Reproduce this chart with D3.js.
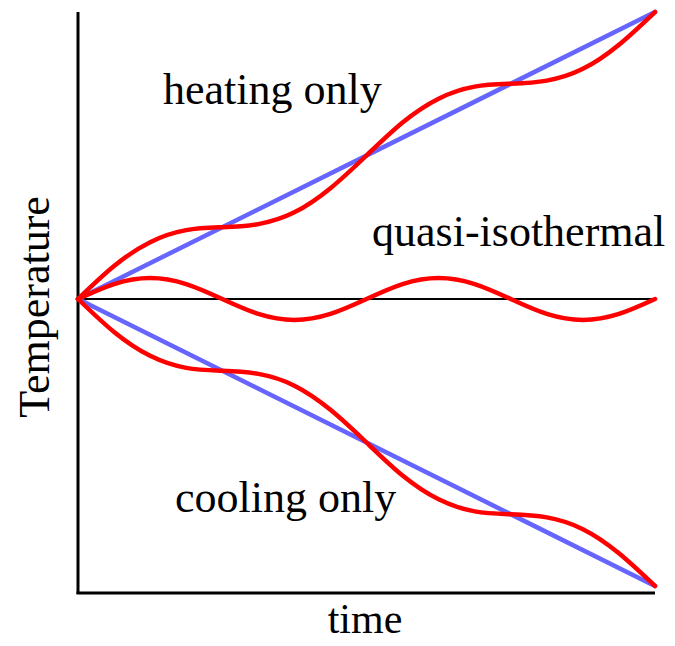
<!DOCTYPE html>
<html>
<head>
<meta charset="utf-8">
<script src="https://cdn.jsdelivr.net/npm/d3@7"></script>
<style>
html, body { margin: 0; padding: 0; background: #fff; }
svg text { font-family: "Liberation Serif", "Times New Roman", serif; fill: #000; }
</style>
</head>
<body>
<svg id="chart" width="675" height="646"></svg>
<script>
// time samples (arbitrary units)
const times = [0,1,2,3,4,5,6,7,8,9,10,11,12,13,14,15,16];
// linear (blue) references
const heatingLinear = [0, 10];
const coolingLinear = [0, -10];
const linearTimes = [0, 16];
// red curves
const heatingOnly = [0, 1.15, 1.98, 2.40, 2.50, 2.61, 3.02, 3.86, 5.00, 6.15, 6.98, 7.40, 7.50, 7.61, 8.02, 8.86, 10.0];
const coolingOnly = [0, -1.15, -1.98, -2.40, -2.50, -2.61, -3.02, -3.86, -5.00, -6.15, -6.98, -7.40, -7.50, -7.61, -8.02, -8.86, -10.0];
const quasiIso = [0, 0.52, 0.73, 0.52, 0, -0.52, -0.73, -0.52, 0, 0.52, 0.73, 0.52, 0, -0.52, -0.73, -0.52, 0];
const labels = ["heating only", "quasi-isothermal", "cooling only"];

const svg = d3.select("#chart");
const x = d3.scaleLinear().domain([0, 16]).range([78, 655]);
const y = d3.scaleLinear().domain([-10, 10]).range([586, 12]);

// axes (no ticks)
svg.append("line").attr("x1", x(0)).attr("x2", x(0)).attr("y1", 12).attr("y2", 594)
  .attr("stroke", "#000").attr("stroke-width", 3);
svg.append("line").attr("x1", x(0) - 1.5).attr("x2", x(16)).attr("y1", 593).attr("y2", 593)
  .attr("stroke", "#000").attr("stroke-width", 3);

// zero line
svg.append("line").attr("x1", x(0)).attr("x2", x(16)).attr("y1", y(0)).attr("y2", y(0))
  .attr("stroke", "#000").attr("stroke-width", 2);

const line = d3.line().x(d => x(d[0])).y(d => y(d[1])).curve(d3.curveNatural);
const straight = d3.line().x(d => x(d[0])).y(d => y(d[1]));

[heatingLinear, coolingLinear].forEach(s => {
  svg.append("path").attr("d", straight(linearTimes.map((t, i) => [t, s[i]])))
    .attr("fill", "none").attr("stroke", "#6666ff").attr("stroke-width", 4.5)
    .attr("stroke-linecap", "round");
});

[heatingOnly, coolingOnly, quasiIso].forEach(s => {
  svg.append("path").attr("d", line(times.map((t, i) => [t, s[i]])))
    .attr("fill", "none").attr("stroke", "#ff0000").attr("stroke-width", 4.5)
    .attr("stroke-linecap", "round").attr("stroke-linejoin", "round");
});

// annotations
svg.append("text").attr("x", 163).attr("y", 104).attr("font-size", 44).text(labels[0]);
svg.append("text").attr("x", 372).attr("y", 246).attr("font-size", 44).text(labels[1]);
svg.append("text").attr("x", 175).attr("y", 512).attr("font-size", 44).text(labels[2]);

// axis titles
svg.append("text").attr("x", 365).attr("y", 633).attr("font-size", 42)
  .attr("text-anchor", "middle").text("time");
svg.append("text").attr("transform", "translate(49,307) rotate(-90)").attr("font-size", 44)
  .attr("text-anchor", "middle").text("Temperature");
</script>
</body>
</html>
